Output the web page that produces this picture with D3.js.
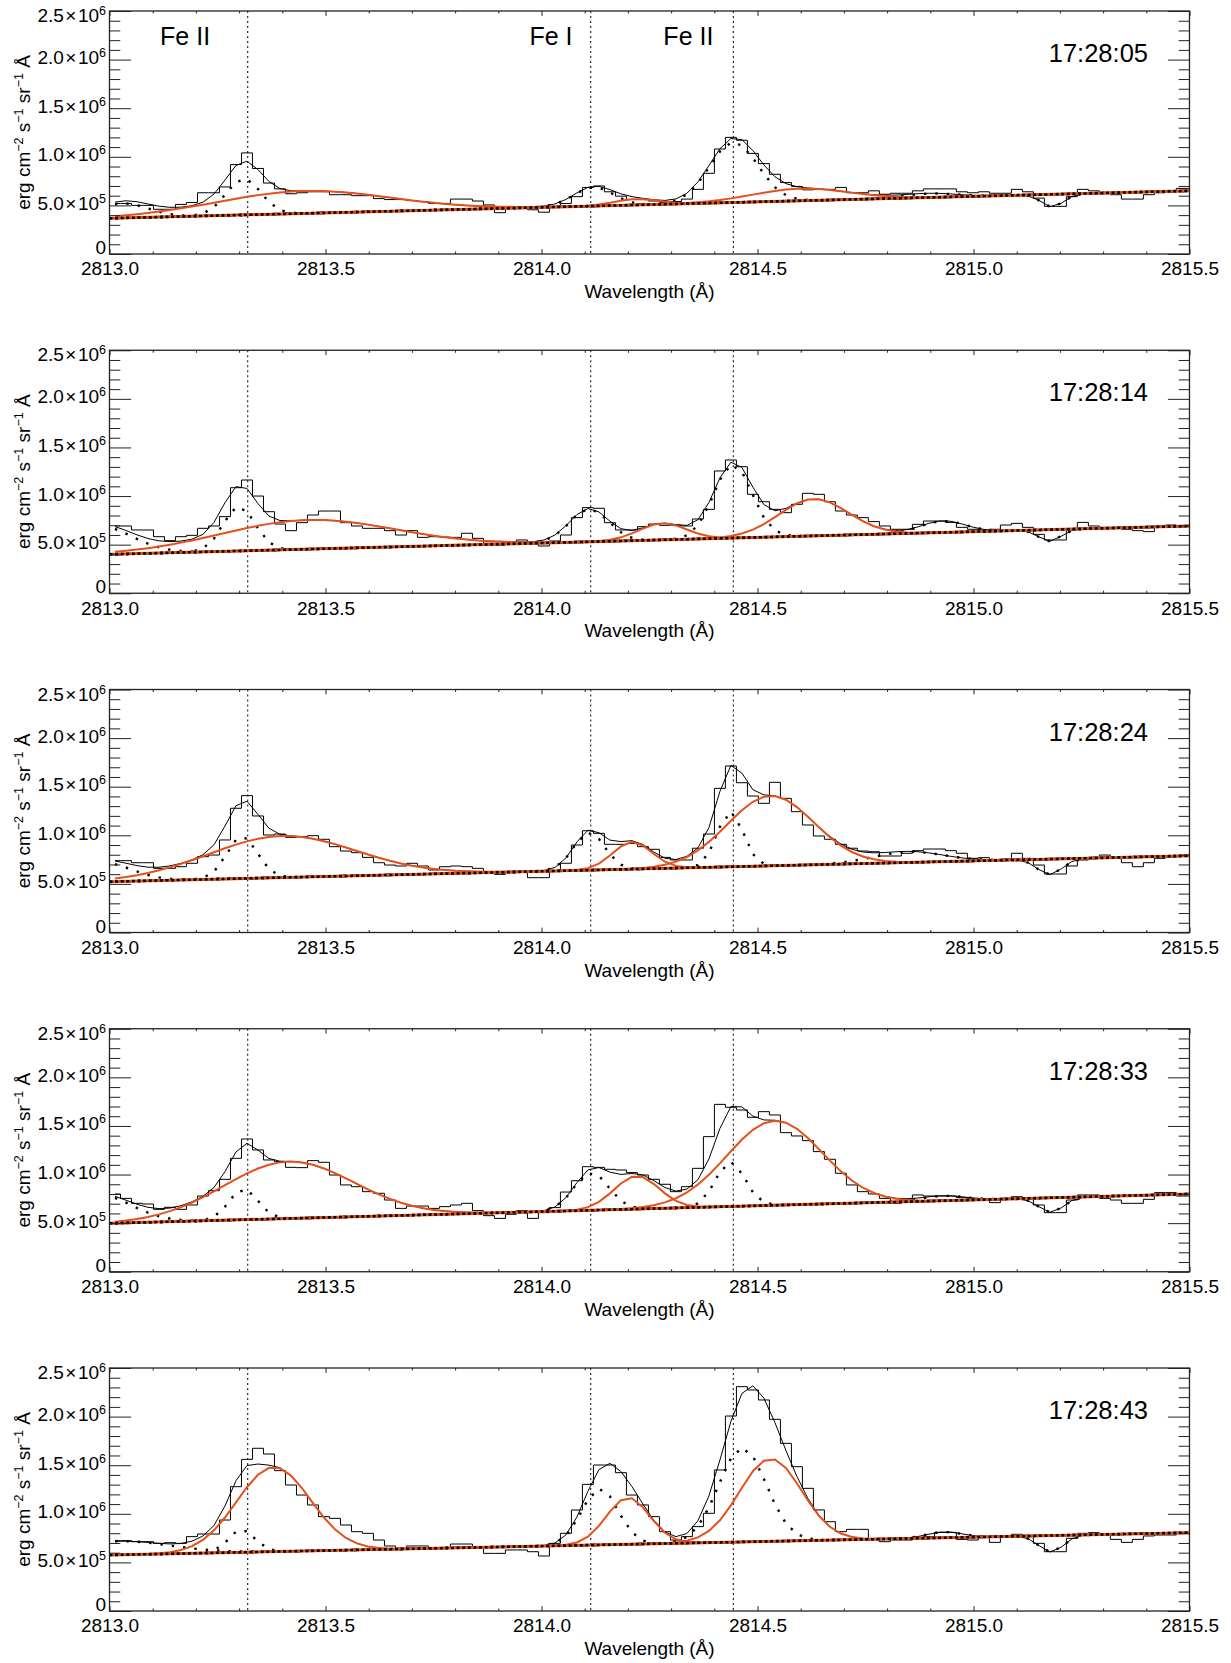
<!DOCTYPE html>
<html><head><meta charset="utf-8">
<script src="https://cdn.jsdelivr.net/npm/d3@7"></script>
<style>
html,body{margin:0;padding:0;background:#fff;}
svg text{font-family:"Liberation Sans",Arial,Helvetica,sans-serif;fill:#000;}
</style></head><body>
<svg id="chart" width="1231" height="1663"></svg>
<script>
// ---------------- data ----------------
const unit = 1e5;                     // all intensities below are in units of 1e5
const wlStart = 2813.0127, wlStep = 0.02546, nBins = 99;   // spectral pixel centres
const xTicksMajor = [2813.0, 2813.5, 2814.0, 2814.5, 2815.0, 2815.5];
const xTickLabels = ["2813.0", "2813.5", "2814.0", "2814.5", "2815.0", "2815.5"];
const yTicksMajor = [0, 5e5, 1e6, 1.5e6, 2e6, 2.5e6];
const yTickMant = ["0", "5.0", "1.0", "1.5", "2.0", "2.5"];
const yTickExp  = ["", "5", "6", "6", "6", "6"];
const lineWl = [2813.32, 2814.114, 2814.444];
const lineNames = ["Fe II", "Fe I", "Fe II"];
const lineLabelWl = [2813.175, 2814.022, 2814.34];
const times = ["17:28:05", "17:28:14", "17:28:24", "17:28:33", "17:28:43"];
// linear background: value at 2813.0 and at 2815.5
const bgStart = [3.67, 4.0, 5.23, 4.98, 5.76];
const bgEnd   = [6.5, 6.92, 7.9, 8.0, 8.06];

const obs1 = [5.2,5.2,5.0,5.0,4.6,4.6,5.1,5.3,6.3,6.3, 6.9,9.2,10.4,8.8,7.3,6.7,6.2,6.3,6.4,6.4,
  6.1,6.1,6.0,6.0,5.7,5.6,5.6,5.5,5.4,5.2, 5.2,5.65,5.65,5.45,5.05,4.25,4.7,4.7,4.55,4.3,
  4.9,5.2,5.9,6.85,7.0,6.4,5.95,5.6,5.6,5.45, 5.3,5.4,5.65,6.65,8.3,10.8,12.0,11.7,10.35,9.3,
  8.2,7.35,6.95,6.6,6.65,6.65,6.85,6.3,6.3,6.5, 6.15,6.25,6.25,6.5,6.7,6.7,6.7,6.4,6.3,6.4,
  6.25,6.25,6.65,6.4,5.75,4.9,4.9,5.9,6.65,6.5, 6.3,6.1,5.65,5.65,6.1,6.3,6.5,6.75,6.75];
const obs2 = [6.92,6.92,6.51,6.51,5.82,5.41,5.82,5.96,6.68,6.92, 7.88,10.86,11.65,10.0,8.39,7.12,6.44,7.26,8.05,8.46,
  8.46,7.26,6.92,6.68,6.68,6.44,5.99,6.44,5.75,5.82, 5.78,5.75,6.17,5.65,5.14,4.96,5.31,5.48,5.31,4.86,
  5.38,5.99,7.78,8.81,8.74,7.26,6.51,6.51,6.85,7.12, 6.99,6.99,6.92,7.64,8.63,12.58,13.71,13.02,10.18,9.42,
  8.63,8.29,9.15,10.28,10.18,9.42,8.46,8.05,7.78,7.37, 6.92,6.58,6.58,7.09,7.43,7.43,7.29,6.78,6.58,6.51,
  6.58,7.02,7.19,6.78,6.06,5.48,5.48,6.58,7.29,6.92, 6.78,6.68,6.58,6.44,6.34,6.92,7.02,6.92,6.92];
const obs3 = [7.39,7.39,7.18,7.18,6.60,6.60,6.77,7.12,7.80,7.97, 9.52,12.78,14.08,11.99,10.03,10.13,9.79,9.86,9.96,9.59,
  8.83,8.38,8.21,7.73,7.18,6.94,6.84,7.12,6.84,6.43, 6.77,6.84,6.77,6.60,6.15,5.98,6.15,6.22,5.64,5.64,
  6.26,7.12,9.0,10.47,10.2,9.07,9.07,9.17,8.83,8.56, 7.73,7.46,7.46,8.67,10.13,14.83,17.13,15.41,14.04,13.29,
  15.45,13.8,12.43,11.06,9.93,9.59,9.07,8.67,8.38,8.31, 7.87,7.87,8.15,8.42,8.59,8.59,8.42,8.15,7.63,7.70,
  7.46,7.56,8.15,7.63,6.94,6.02,6.02,6.84,7.46,7.73, 7.97,7.63,7.18,6.77,7.18,7.63,7.73,7.87,7.87];
const obs4 = [8.0,7.55,7.04,6.97,6.42,6.63,6.42,6.87,7.79,8.34, 9.51,11.67,13.66,12.53,11.5,11.33,10.74,10.71,11.43,11.26,
  9.95,8.93,8.75,8.24,8.07,7.38,6.52,6.76,6.76,6.52, 6.70,6.87,7.04,6.29,5.77,5.49,5.91,6.29,5.49,6.08,
  6.60,8.2,9.37,10.81,10.74,10.54,10.47,10.2,9.95,9.51, 9.0,8.24,8.75,10.64,13.9,17.22,16.92,16.64,15.89,16.47,
  16.13,14.31,13.97,13.49,12.36,11.57,10.13,8.93,8.24,8.0, 7.55,7.04,7.38,7.90,7.79,7.79,7.79,7.62,7.55,7.45,
  7.11,7.55,7.72,7.55,6.87,6.08,6.08,7.38,7.90,7.90, 7.55,7.38,7.04,7.04,7.45,8.14,8.14,7.79,7.79];
const obs5 = [7.24,7.24,7.13,7.13,6.96,7.03,6.96,7.65,7.92,7.92, 9.36,12.79,15.6,16.74,16.15,14.44,12.96,11.93,10.91,9.71,
  9.53,8.85,8.16,7.99,7.30,6.69,6.45,6.69,6.69,6.51, 6.51,6.89,6.89,6.45,5.93,5.93,6.28,6.28,6.10,5.66,
  6.96,7.99,10.39,13.03,15.02,15.02,14.23,11.93,10.91,9.71, 8.16,7.30,7.65,8.68,10.05,14.51,20.06,23.08,22.74,21.71,
  19.72,17.25,14.85,12.62,10.4,9.19,8.16,8.40,8.40,7.37, 7.13,7.30,7.30,7.58,7.65,8.09,8.09,7.37,7.30,7.65,
  7.06,7.58,7.89,7.65,6.96,6.10,6.10,7.48,7.99,8.06, 7.92,7.37,7.06,7.37,7.72,7.82,7.82,7.99,7.99];

// fitted Gaussian components: [centre (Å), amplitude (1e5), sigma (Å)]
const dotted1 = [[2813.03,1.5,0.06],[2813.31,3.75,0.04],[2814.12,1.95,0.045],[2814.445,6.2,0.056],[2814.9,0.4,0.06],[2815.183,-1.3,0.025]];
const orange1 = [[2813.45,2.3,0.2],[2814.22,0.6,0.05],[2814.6,1.25,0.11]];
const dotted2 = [[2812.97,3.0,0.08],[2813.30,4.6,0.037],[2814.11,3.4,0.045],[2814.443,7.6,0.044],[2814.93,1.2,0.05],[2815.177,-1.2,0.025]];
const orange2 = [[2813.46,3.0,0.2],[2814.28,1.7,0.055],[2814.63,3.8,0.08]];
const dotted3 = [[2812.98,2.0,0.07],[2813.307,4.35,0.035],[2814.11,3.9,0.036],[2814.437,5.7,0.03],[2814.85,1.1,0.08],[2815.177,-1.6,0.028]];
const orange3 = [[2813.40,4.27,0.17],[2814.21,2.8,0.045],[2814.53,7.2,0.1]];
const dotted4 = [[2812.97,3.0,0.08],[2813.31,3.2,0.033],[2814.115,3.9,0.04],[2814.437,4.6,0.034],[2814.93,0.5,0.05],[2815.18,-1.5,0.028]];
const orange4 = [[2813.415,5.85,0.15],[2814.22,3.4,0.052],[2814.54,8.7,0.11]];
const dotted5 = [[2813.02,1.4,0.12],[2813.306,2.35,0.03],[2814.135,5.8,0.042],[2814.465,9.7,0.055],[2814.933,0.6,0.04],[2815.18,-1.7,0.028]];
const orange5 = [[2813.38,8.7,0.085],[2814.20,4.8,0.05],[2814.53,8.5,0.072]];

const panels = [
  {obs: obs1, dotted: dotted1, orange: orange1},
  {obs: obs2, dotted: dotted2, orange: orange2},
  {obs: obs3, dotted: dotted3, orange: orange3},
  {obs: obs4, dotted: dotted4, orange: orange4},
  {obs: obs5, dotted: dotted5, orange: orange5}
];

// ---------------- layout ----------------
const ORANGE = "#e6501c";
const AX = "#222";
const left = 109.5, top0 = 11, gap = 339.25, W = 1080, H = 243;
const svg = d3.select("#chart");
const x = d3.scaleLinear().domain([2813, 2815.5]).range([0, W]);
const y = d3.scaleLinear().domain([0, 2.5e6]).range([H, 0]);
const xMinor = d3.range(0, 26).map(i => 2813 + i * 0.1).filter(v => !xTicksMajor.some(m => Math.abs(m - v) < 1e-6));
const yMinor = d3.range(0, 26).map(i => i * 1e5).filter(v => !yTicksMajor.some(m => Math.abs(m - v) < 1));

const centres = d3.range(nBins).map(k => wlStart + k * wlStep);
const gauss = (c, w) => c[1] * Math.exp(-0.5 * Math.pow((w - c[0]) / c[2], 2));

panels.forEach((p, i) => {
  const g = svg.append("g").attr("transform", `translate(${left},${top0 + i * gap})`);
  const bg = w => bgStart[i] + (bgEnd[i] - bgStart[i]) * (w - 2813) / 2.5;
  const clipId = "clip" + i;
  g.append("clipPath").attr("id", clipId).append("rect").attr("x", 0).attr("y", 0).attr("width", W).attr("height", H);
  const plot = g.append("g").attr("clip-path", `url(#${clipId})`);

  // reference line positions
  plot.selectAll("line.vl").data(lineWl).join("line").attr("class", "vl")
    .attr("x1", d => x(d)).attr("x2", d => x(d)).attr("y1", 0).attr("y2", H)
    .attr("stroke", "#000").attr("stroke-width", 1).attr("stroke-dasharray", "2 3");

  const lineXY = d3.line().x(d => x(d[0])).y(d => y(d[1] * unit));

  // observed spectrum as histogram
  const obsPts = p.obs.map((v, k) => [centres[k], v]);
  plot.append("path").attr("d", lineXY.curve(d3.curveStep)(obsPts))
    .attr("fill", "none").attr("stroke", "#000").attr("stroke-width", 1);
  lineXY.curve(d3.curveLinear);

  // total fit
  const all = p.dotted.concat(p.orange);
  const totPts = centres.map(w => [w, bg(w) + d3.sum(all, c => gauss(c, w))]);
  plot.append("path").attr("d", lineXY(totPts))
    .attr("fill", "none").attr("stroke", "#000").attr("stroke-width", 1);

  // dotted components
  p.dotted.forEach(c => {
    const pts = centres.map(w => [w, bg(w) + gauss(c, w)]);
    plot.append("path").attr("d", lineXY(pts))
      .attr("fill", "none").attr("stroke", "#000").attr("stroke-width", 2.4)
      .attr("stroke-dasharray", "2.4 9");
  });
  // red-shifted components
  p.orange.forEach(c => {
    const pts = centres.map(w => [w, bg(w) + gauss(c, w)]);
    plot.append("path").attr("d", lineXY(pts))
      .attr("fill", "none").attr("stroke", ORANGE).attr("stroke-width", 2);
  });
  // background
  const bgPts = [[2813, bg(2813)], [2815.5, bg(2815.5)]];
  plot.append("path").attr("d", lineXY(bgPts)).attr("fill", "none").attr("stroke", ORANGE).attr("stroke-width", 3);
  plot.append("path").attr("d", lineXY(bgPts)).attr("fill", "none").attr("stroke", "#000")
    .attr("stroke-width", 2.6).attr("stroke-dasharray", "3 2.6");

  // axes
  const styleAxis = sel => { sel.select(".domain").remove(); sel.selectAll("line").attr("stroke", AX).attr("stroke-width", 1); };
  g.append("g").attr("transform", `translate(0,${H})`)
    .call(d3.axisBottom(x).tickValues(xTicksMajor).tickSize(-4.9).tickSizeOuter(0).tickPadding(8)
      .tickFormat((d, j) => xTickLabels[j]))
    .call(styleAxis)
    .call(s => s.selectAll("text").attr("font-size", 19).attr("fill", "#000").style("font-family", "Liberation Sans, Arial, sans-serif"));
  g.append("g").attr("transform", `translate(0,${H})`)
    .call(d3.axisBottom(x).tickValues(xMinor).tickSize(-2.5).tickSizeOuter(0).tickFormat("")).call(styleAxis);
  g.append("g").call(d3.axisTop(x).tickValues(xTicksMajor).tickSize(-4.9).tickSizeOuter(0).tickFormat("")).call(styleAxis);
  g.append("g").call(d3.axisTop(x).tickValues(xMinor).tickSize(-2.5).tickSizeOuter(0).tickFormat("")).call(styleAxis);
  g.append("g").call(d3.axisLeft(y).tickValues(yTicksMajor).tickSize(-21.6).tickSizeOuter(0).tickFormat("")).call(styleAxis);
  g.append("g").call(d3.axisLeft(y).tickValues(yMinor).tickSize(-10.8).tickSizeOuter(0).tickFormat("")).call(styleAxis);
  g.append("g").attr("transform", `translate(${W},0)`)
    .call(d3.axisRight(y).tickValues(yTicksMajor).tickSize(-21.6).tickSizeOuter(0).tickFormat("")).call(styleAxis);
  g.append("g").attr("transform", `translate(${W},0)`)
    .call(d3.axisRight(y).tickValues(yMinor).tickSize(-10.8).tickSizeOuter(0).tickFormat("")).call(styleAxis);

  // frame
  g.append("rect").attr("x", 0).attr("y", 0).attr("width", W).attr("height", H)
    .attr("fill", "none").attr("stroke", AX).attr("stroke-width", 1.3);

  // y tick labels with exponent
  yTicksMajor.forEach((v, j) => {
    let yy = y(v) + 4.5;
    if (j === 0) yy = y(v);
    if (j === yTicksMajor.length - 1) yy = y(v) + 11;
    const t = g.append("text").attr("x", -3.5).attr("y", yy).attr("text-anchor", "end").attr("font-size", 19);
    if (yTickExp[j] === "") { t.text(yTickMant[j]); return; }
    t.append("tspan").text(yTickMant[j]);
    t.append("tspan").attr("dx", 1.5).text("×");
    t.append("tspan").attr("dx", 1.5).text("10");
    t.append("tspan").attr("font-size", 12.5).attr("dy", -7).text(yTickExp[j]);
  });

  // y axis title
  const yt = g.append("text").attr("transform", `translate(${30 - left},${H / 2}) rotate(-90)`)
    .attr("text-anchor", "middle").attr("font-size", 19);
  const parts = [["erg cm", 0], ["−2", 1], [" s", 0], ["−1", 1], [" sr", 0], ["−1", 1], [" Å", 0]];
  parts.forEach(([txt, sup], j) => {
    const ts = yt.append("tspan").text(txt);
    if (sup) ts.attr("font-size", 12.5).attr("dy", -7.5);
    else if (j > 0) ts.attr("dy", 7.5);
  });

  // x axis title
  g.append("text").attr("x", W / 2).attr("y", H + 44).attr("text-anchor", "middle")
    .attr("font-size", 19).text("Wavelength (Å)");

  // time stamp
  g.append("text").attr("x", W - 41.5).attr("y", 51).attr("text-anchor", "end")
    .attr("font-size", 25.5).text(times[i]);

  // line identifications (top panel only)
  if (i === 0) {
    lineNames.forEach((n, j) => {
      g.append("text").attr("x", x(lineLabelWl[j])).attr("y", 34).attr("text-anchor", "middle")
        .attr("font-size", 25).text(n);
    });
  }
});
</script>
</body></html>
